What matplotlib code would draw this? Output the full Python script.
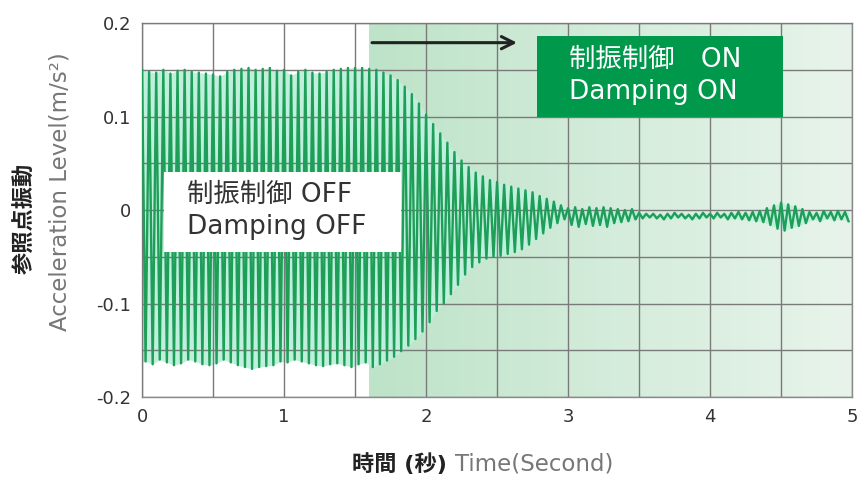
import numpy as np
import matplotlib
matplotlib.use("Agg")
import matplotlib.pyplot as plt
from matplotlib.colors import LinearSegmentedColormap
from matplotlib.patches import Rectangle

plt.rcParams['font.family'] = ['DejaVu Sans', 'Noto Sans CJK JP']

# ===============================
# Data (one entry per 0.05 s cycle)
# ===============================
cycle_start = 0.0
cycle_len = 0.05

upper_peaks = [
    0.150, 0.148, 0.147, 0.150, 0.146, 0.149, 0.150, 0.148, 0.147, 0.146,
    0.145, 0.143, 0.148, 0.150, 0.151, 0.152, 0.150, 0.151, 0.152, 0.149,
    0.150, 0.144, 0.148, 0.150, 0.147, 0.146, 0.148, 0.150, 0.151, 0.152,
    0.152, 0.152, 0.151, 0.150, 0.147, 0.144, 0.139, 0.132, 0.124, 0.114,
    0.102, 0.092, 0.082, 0.072, 0.062, 0.053, 0.046, 0.040, 0.036, 0.032,
    0.030, 0.027, 0.025, 0.023, 0.021, 0.019, 0.015, 0.012, 0.009, 0.005,
    0.002, 0.003, 0.001, 0.003, 0.002, 0.003, 0.002, 0.001, 0.000, 0.001,
    -0.003, -0.004, -0.004, -0.005, -0.004, -0.003, -0.004, -0.005, -0.004, -0.003,
    -0.004, -0.003, -0.004, -0.003, -0.002, -0.003, -0.002, -0.001,
    0.002, 0.005, 0.008, 0.006, 0.004, 0.001,
    -0.002, -0.003, -0.001, -0.002, -0.001, -0.002,
]

lower_peaks = [
    -0.162, -0.165, -0.160, -0.163, -0.166, -0.164, -0.160, -0.162, -0.165, -0.166,
    -0.164, -0.160, -0.163, -0.166, -0.168, -0.170, -0.168, -0.167, -0.166, -0.162,
    -0.163, -0.160, -0.162, -0.164, -0.166, -0.167, -0.165, -0.164, -0.166, -0.168,
    -0.165, -0.163, -0.168, -0.165, -0.161, -0.157, -0.151, -0.145, -0.138, -0.130,
    -0.120, -0.108, -0.100, -0.090, -0.080, -0.069, -0.061, -0.056, -0.052, -0.050,
    -0.049, -0.047, -0.045, -0.042, -0.037, -0.031, -0.025, -0.019, -0.014, -0.010,
    -0.016, -0.018, -0.015, -0.017, -0.016, -0.018, -0.014, -0.013, -0.012, -0.010,
    -0.009, -0.008, -0.009, -0.010, -0.009, -0.008, -0.009, -0.010, -0.009, -0.008,
    -0.009, -0.008, -0.010, -0.009, -0.010, -0.011, -0.012, -0.013,
    -0.016, -0.020, -0.022, -0.019, -0.017, -0.014,
    -0.010, -0.012, -0.009, -0.011, -0.010, -0.012,
]

damping_on_time = 1.6
x_ticks = [0, 1, 2, 3, 4, 5]
y_ticks = [-0.2, -0.1, 0.0, 0.1, 0.2]
y_tick_labels = ["-0.2", "-0.1", "0", "0.1", "0.2"]

# ===============================
# Build the waveform (upper peak, then lower peak each cycle)
# ===============================
n = len(upper_peaks)
t_up = cycle_start + np.arange(n) * cycle_len
t_low = t_up + cycle_len / 2
t = np.empty(2 * n)
acc = np.empty(2 * n)
t[0::2] = t_up
t[1::2] = t_low
acc[0::2] = upper_peaks
acc[1::2] = lower_peaks

# ===============================
# Plot
# ===============================
fig = plt.figure(figsize=(8.67, 4.8), dpi=100)
ax = fig.add_axes([0.1638, 0.1729, 0.819, 0.7791])

# green gradient for damping ON region
grad = np.linspace(0, 1, 256).reshape(1, -1)
cmap = LinearSegmentedColormap.from_list("g", ["#bde3c8", "#d4ecdb", "#e8f4eb"])
ax.imshow(grad, cmap=cmap, aspect="auto", extent=[damping_on_time, 5, -0.2, 0.2],
          zorder=0)

ax.set_xlim(0, 5)
ax.set_ylim(-0.2, 0.2)
ax.set_xticks(x_ticks)
ax.set_xticks(np.arange(0.5, 5, 1.0), minor=True)
ax.set_yticks(y_ticks)
ax.set_yticks([-0.15, -0.05, 0.05, 0.15], minor=True)
ax.set_yticklabels(y_tick_labels)
ax.grid(True, which="both", color="#7a7a7a", lw=1.0, zorder=1)
ax.set_axisbelow(False)
ax.tick_params(which="both", length=0, labelsize=13, colors="#333333", pad=8)
for s in ax.spines.values():
    s.set_color("#8a8a8a")
    s.set_linewidth(1.0)

ax.fill_between(t, np.interp(t, t_up, upper_peaks), np.interp(t, t_low, lower_peaks),
                color="#bff0dc", lw=0, zorder=2)
ax.plot(t, acc, color="#1e9e58", lw=1.7, zorder=3)

# arrow
ax.annotate("", xy=(2.66, 0.179), xytext=(1.6, 0.179),
            arrowprops=dict(arrowstyle="->", color="#222222", lw=2.2,
                            mutation_scale=22), zorder=5)

# boxes
ax.add_patch(Rectangle((2.782, 0.0995), 1.732, 0.0865, fc="#00994c", ec="none",
                       zorder=6))
ax.text(3.007, 0.143, "制振制御　ON\nDamping ON", fontsize=19, color="white",
        ha="left", va="center", linespacing=1.3, zorder=7)
ax.add_patch(Rectangle((0.155, -0.0449), 1.669, 0.0855, fc="white", ec="none",
                       zorder=6))
ax.text(0.317, -0.001, "制振制御 OFF\nDamping OFF", fontsize=19, color="#333333",
        ha="left", va="center", linespacing=1.3, zorder=7)

# axis labels
fig.text(0.029, 0.546, "参照点振動", rotation=90, ha="center", va="center",
         fontsize=16, fontweight="bold", color="#222222")
fig.text(0.069, 0.60, "Acceleration Level(m/s²)", rotation=90, ha="center",
         va="center", fontsize=16.5, color="#777777")
fig.text(0.516, 0.033, "時間 (秒)", ha="right", va="center", fontsize=16,
         fontweight="bold", color="#222222")
fig.text(0.525, 0.033, "Time(Second)", ha="left", va="center", fontsize=16.5,
         color="#777777")

fig.savefig("out.png", dpi=100)
